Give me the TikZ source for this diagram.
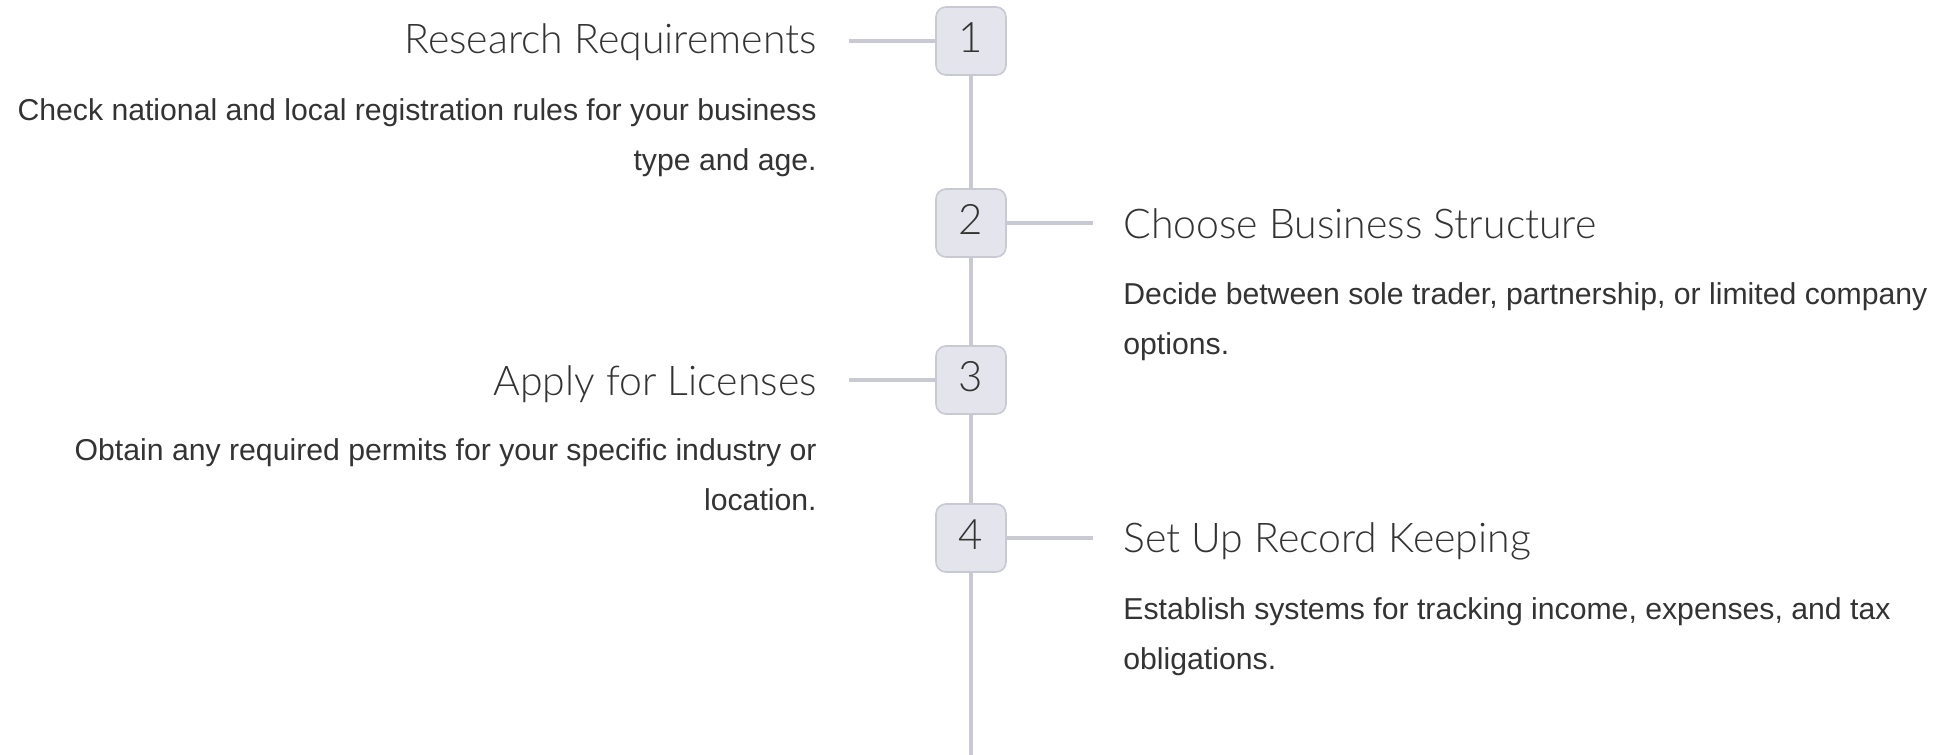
\documentclass[tikz,border=0pt]{standalone}
\usepackage{fontspec}
\setmainfont{Liberation Sans}
\newfontfamily\headfont{Lato Light}

\definecolor{railgray}{HTML}{C9C9D4}
\definecolor{boxgray}{HTML}{E4E4EC}
\definecolor{inkgray}{HTML}{333333}

\begin{document}
\begin{tikzpicture}[x=0.5pt,y=-0.5pt,
  stepbox/.style={draw=railgray,fill=boxgray,line width=0.8pt,rounded corners=5pt,
    minimum width=35pt,minimum height=34pt,inner sep=0pt,text=inkgray,
    font=\headfont\fontsize{21}{21}\selectfont},
  rail/.style={railgray,line width=1.6pt},
  steptitle/.style={inner sep=0pt,text=inkgray,font=\headfont\fontsize{20.5}{21}\selectfont},
  stepnote/.style={inner sep=0pt,text=inkgray,font=\fontsize{15.1}{25}\selectfont}]
  \useasboundingbox (0,0) rectangle (1950,755);

  \foreach \n/\y in {1/41,2/223,3/380,4/538}
    \node[stepbox] (s\n) at (971,\y) {\raisebox{3.5pt}{\n}};
  \coordinate (railend) at (971,755);

  \node[steptitle,anchor=base east] (t1) at (817,54) {Research Requirements};
  \node[stepnote,anchor=north east,align=right] (d1) at (817,98)
    {Check national and local registration rules for your business\\type and age.};

  \node[steptitle,anchor=base west] (t2) at (1123,238) {Choose Business Structure};
  \node[stepnote,anchor=north west,align=left] (d2) at (1123,282)
    {Decide between sole trader, partnership, or limited company\\options.};

  \node[steptitle,anchor=base east] (t3) at (817,395) {Apply for Licenses};
  \node[stepnote,anchor=north east,align=right] (d3) at (817,438)
    {Obtain any required permits for your specific industry or\\location.};

  \node[steptitle,anchor=base west] (t4) at (1123,552) {Set Up Record Keeping};
  \node[stepnote,anchor=north west,align=left] (d4) at (1123,597)
    {Establish systems for tracking income, expenses, and tax\\obligations.};

  \draw[rail] (s1) -- (s2);
  \draw[rail] (s2) -- (s3);
  \draw[rail] (s3) -- (s4);
  \draw[rail] (s4) -- (railend);
  \draw[rail] (s1.west) -- ([xshift=16pt]t1.east |- s1.west);
  \draw[rail] (s2.east) -- ([xshift=-15pt]t2.west |- s2.east);
  \draw[rail] (s3.west) -- ([xshift=16pt]t3.east |- s3.west);
  \draw[rail] (s4.east) -- ([xshift=-15pt]t4.west |- s4.east);
\end{tikzpicture}
\end{document}
